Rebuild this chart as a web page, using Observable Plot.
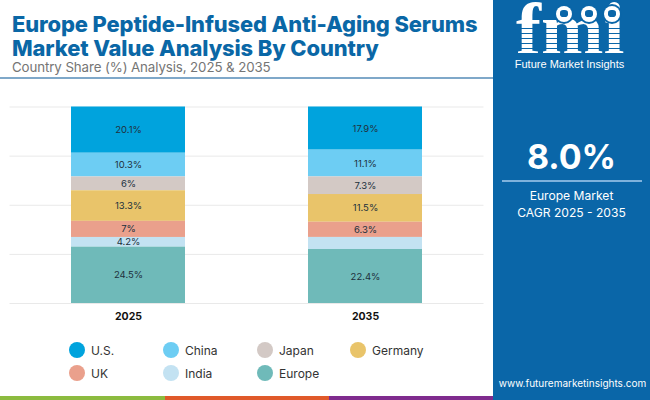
<!DOCTYPE html>
<html>
<head>
<meta charset="utf-8">
<script src="https://cdn.jsdelivr.net/npm/d3@7"></script>
<script src="https://cdn.jsdelivr.net/npm/@observablehq/plot@0.6"></script>
<style>
html,body{margin:0;padding:0;background:#fff}
body{width:650px;height:400px;position:relative;overflow:hidden;font-family:Inter,"Noto Sans",sans-serif}
.abs{position:absolute;white-space:nowrap}
#title{left:12px;top:12px;font-size:21.9px;line-height:24px;font-weight:800;color:#0a67a6;letter-spacing:-.1px}
#sub{left:12px;top:60px;font-size:13.3px;line-height:15px;color:#757575;letter-spacing:-.1px}
#rule{left:0;top:77px;width:493px;height:2px;background:#7fa8c9}
#panel{left:493px;top:0;width:157px;height:400px;background:#0a66a8}
#chart{left:0;top:90px}
.seg{top:396px;height:4px}
.leg{display:flex;align-items:center;gap:6px;font-size:12px;color:#333}
.leg i{display:block;width:16px;height:16px;border-radius:50%;flex:none}
.c{left:493px;width:157px;text-align:center;color:#fff}
#fmi{left:516px;top:1px;font-family:"Liberation Serif",serif;font-weight:700;font-size:75px;line-height:56px;color:#fff}
.stripes{left:515px;width:115px;top:24px;height:32px;background:repeating-linear-gradient(to bottom,transparent 0 4px,#0a66a8 4px 5px)}
.globe{width:16px;height:16px;border-radius:50%;background:#fff;top:6px;box-shadow:0 0 0 2px #0a66a8}
.globe b{position:absolute;left:4px;top:4px;width:8px;height:7px;border-radius:40%;background:#0a66a8}
</style>
</head>
<body>
<div class="abs" id="title">Europe Peptide-Infused Anti-Aging Serums<br>Market Value Analysis By Country</div>
<div class="abs" id="sub">Country Share (%) Analysis, 2025 &amp; 2035</div>
<div class="abs" id="rule"></div>
<div class="abs" id="chart"></div>
<div class="abs seg" style="left:0;width:165px;background:#8cbb3f"></div>
<div class="abs seg" style="left:165px;width:164px;background:#e0592a"></div>
<div class="abs seg" style="left:329px;width:164px;background:#7f2b8e"></div>
<div class="abs" id="panel"></div>
<div class="abs" id="fmi">fmi</div>
<div class="abs stripes"></div>
<div class="abs globe" style="left:556px"><b></b></div>
<div class="abs globe" style="left:581px"><b></b></div>
<div class="abs globe" style="left:604px"><b></b></div>
<div class="abs c" style="top:58px;font-size:11px;line-height:12px;font-family:'Liberation Sans',sans-serif;left:491px">Future Market Insights</div>
<div class="abs c" style="top:134px;font-size:34px;line-height:46px;font-weight:700">8.0%</div>
<div class="abs" style="left:502px;top:180px;width:140px;height:2px;background:#7fb2dc"></div>
<div class="abs c" style="top:187px;font-size:12.1px;line-height:17px">Europe Market<br>CAGR 2025 - 2035</div>
<div class="abs c" style="top:376px;font-size:10px;line-height:14px;left:494px">www.futuremarketinsights.com</div>

<script>
const years = ["2025", "2035"];
const countries = ["U.S.", "China", "Japan", "Germany", "UK", "India", "Europe"];
const colors = ["#00a3dd", "#6dcdf3", "#d3c9c5", "#e9c46a", "#eaa08c", "#c3e2f2", "#6fbab9"];
const values2025 = [20.1, 10.3, 6, 13.3, 7, 4.2, 24.5];
const values2035 = [17.9, 11.1, 7.3, 11.5, 6.3, 5, 22.4];
const labels2025 = ["20.1%", "10.3%", "6%", "13.3%", "7%", "4.2%", "24.5%"];
const labels2035 = ["17.9%", "11.1%", "7.3%", "11.5%", "6.3%", null, "22.4%"];
const gridTicks = [0, 0.25, 0.5, 0.75, 1];

const rows = countries.flatMap((country, i) => [
  {year: years[0], country, value: values2025[i], label: labels2025[i]},
  {year: years[1], country, value: values2035[i], label: labels2035[i]}
]);
const stackOrder = countries.slice().reverse();
const stack = {x: "year", y: "value", z: "country", order: stackOrder, offset: "normalize"};

const plot = Plot.plot({
  width: 493,
  height: 240,
  marginLeft: 9.5,
  marginRight: 9.5,
  marginTop: 16.5,
  marginBottom: 27,
  style: {background: "transparent", fontFamily: "Inter, sans-serif"},
  x: {domain: years, paddingInner: 0.52, paddingOuter: 0.26, label: null, tickSize: 0},
  y: {domain: [0, 1], axis: null},
  color: {domain: countries, range: colors},
  marks: [
    Plot.ruleY(gridTicks, {stroke: "#e9e9e9", strokeWidth: 1}),
    Plot.barY(rows, Plot.stackY({...stack, fill: "country"})),
    Plot.text(rows, Plot.stackY({...stack, text: "label", fill: "#20303c", fontSize: 9.5})),
    Plot.axisX({tickSize: 0, tickPadding: 9, fontSize: 10.5, fontWeight: 700, fill: "#111", label: null})
  ]
});
document.getElementById("chart").appendChild(plot);

const legendCols = [69, 163, 257, 350];
const legendRows = [342, 365];
countries.forEach((c, i) => {
  const el = document.createElement("div");
  el.className = "abs leg";
  el.style.left = legendCols[i % 4] + "px";
  el.style.top = legendRows[Math.floor(i / 4)] + "px";
  el.innerHTML = `<i style="background:${colors[i]}"></i><span>${c}</span>`;
  document.body.appendChild(el);
});
</script>
</body>
</html>
